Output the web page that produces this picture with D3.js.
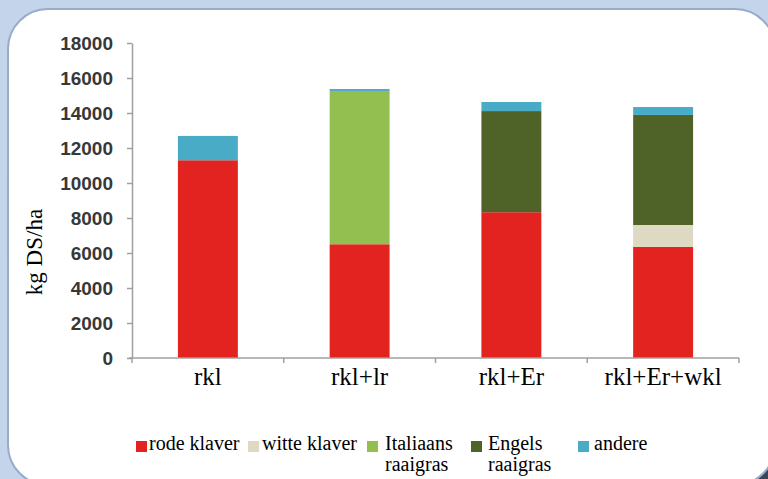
<!DOCTYPE html>
<html>
<head>
<meta charset="utf-8">
<script src="https://cdn.jsdelivr.net/npm/d3@7"></script>
<style>
  html, body { margin: 0; padding: 0; background: #c4d4ea; }
  svg { display: block; }
</style>
</head>
<body>
<svg id="chart" width="768" height="479"></svg>
<script>
// Opbrengst per mengsel (kg DS/ha), gestapeld per component
const categories = ["rkl", "rkl+lr", "rkl+Er", "rkl+Er+wkl"];
const rodeKlaver        = [11300, 6500, 8330, 6350];
const witteKlaver       = [0, 0, 0, 1250];
const italiaansRaaigras = [0, 8760, 0, 0];
const engelsRaaigras    = [0, 0, 5780, 6290];
const andere            = [1390, 110, 520, 450];
const yTicks = [0, 2000, 4000, 6000, 8000, 10000, 12000, 14000, 16000, 18000];

const seriesNames  = ["rode klaver", "witte klaver", "Italiaans raaigras", "Engels raaigras", "andere"];
const seriesValues = [rodeKlaver, witteKlaver, italiaansRaaigras, engelsRaaigras, andere];
const seriesColors = ["#e2231f", "#ddd9c3", "#92bf50", "#4f6228", "#4aabc6"];
const legendLines  = [["rode klaver"], ["witte klaver"], ["Italiaans", "raaigras"], ["Engels", "raaigras"], ["andere"]];

const serif = "'Liberation Serif', 'Times New Roman', serif";
const svg = d3.select("#chart");

// Panel background with rounded frame
svg.append("rect").attr("x", 0).attr("y", 0).attr("width", 768).attr("height", 479).attr("fill", "#c4d4ea");
svg.append("rect").attr("x", 740).attr("y", 455).attr("width", 28).attr("height", 24).attr("fill", "#3c4558");
svg.append("rect")
  .attr("x", 8).attr("y", 9).attr("width", 767).attr("height", 476)
  .attr("rx", 40).attr("ry", 40)
  .attr("fill", "#ffffff").attr("stroke", "#97acca").attr("stroke-width", 2);

// Scales
const x = d3.scaleBand().domain(categories).range([132, 739]).paddingInner(0.605).paddingOuter(0.3025);
const y = d3.scaleLinear().domain([0, 18000]).range([358, 43]);

// Stacked data
const table = categories.map((c, i) => {
  const row = { cat: c };
  seriesNames.forEach((s, k) => { row[s] = seriesValues[k][i]; });
  return row;
});
const stacked = d3.stack().keys(seriesNames)(table);

svg.append("g").selectAll("g")
  .data(stacked)
  .join("g")
  .attr("fill", (d, k) => seriesColors[k])
  .selectAll("rect")
  .data(d => d.filter(p => p[1] - p[0] > 0))
  .join("rect")
  .attr("x", d => x(d.data.cat))
  .attr("width", x.bandwidth())
  .attr("y", d => y(d[1]))
  .attr("height", d => y(d[0]) - y(d[1]));

// Y axis
const axisColor = "#a0a0a0";
const yAxis = svg.append("g")
  .attr("transform", `translate(${x.range()[0]},0)`)
  .call(d3.axisLeft(y).tickValues(yTicks).tickFormat(d3.format("d")).tickSize(5).tickPadding(14).tickSizeOuter(0));
yAxis.select(".domain").attr("stroke", axisColor).attr("stroke-width", 1.5);
yAxis.selectAll(".tick line").attr("stroke", axisColor).attr("stroke-width", 1.5);
yAxis.selectAll(".tick text")
  .attr("font-family", "'Liberation Sans', Arial, sans-serif")
  .attr("font-weight", "bold")
  .attr("font-size", 19)
  .attr("fill", "#383838");

// X axis with ticks between categories
const step = x.step();
const left = x.range()[0];
const boundaries = d3.range(categories.length + 1).map(i => left + i * step);
const xAxisG = svg.append("g");
xAxisG.append("line")
  .attr("x1", left - 3).attr("x2", x.range()[1])
  .attr("y1", y(0)).attr("y2", y(0))
  .attr("stroke", axisColor).attr("stroke-width", 1.5);
xAxisG.selectAll("line.tk")
  .data(boundaries)
  .join("line")
  .attr("class", "tk")
  .attr("x1", d => d).attr("x2", d => d)
  .attr("y1", y(0)).attr("y2", y(0) + 5)
  .attr("stroke", axisColor).attr("stroke-width", 1.5);
xAxisG.selectAll("text")
  .data(categories)
  .join("text")
  .attr("x", d => x(d) + x.bandwidth() / 2)
  .attr("y", 385)
  .attr("text-anchor", "middle")
  .attr("font-family", serif)
  .attr("font-size", 25)
  .attr("fill", "#000")
  .text(d => d);

// Y axis title
svg.append("text")
  .attr("transform", "translate(42,252) rotate(-90)")
  .attr("text-anchor", "middle")
  .attr("font-family", serif)
  .attr("font-size", 23)
  .attr("fill", "#000")
  .text("kg DS/ha");

// Legend
const legendX = [136, 248, 367, 471, 578];
const legendTextX = [149, 262, 385, 488, 594];
const legend = svg.append("g");
seriesNames.forEach((s, k) => {
  const g = legend.append("g");
  g.append("rect")
    .attr("x", legendX[k]).attr("y", 441)
    .attr("width", 11).attr("height", 11)
    .attr("fill", seriesColors[k]);
  legendLines[k].forEach((line, j) => {
    g.append("text")
      .attr("x", legendTextX[k])
      .attr("y", 450 + j * 21)
      .attr("font-family", serif)
      .attr("font-size", 20)
      .attr("fill", "#000")
      .text(line);
  });
});
</script>
</body>
</html>
